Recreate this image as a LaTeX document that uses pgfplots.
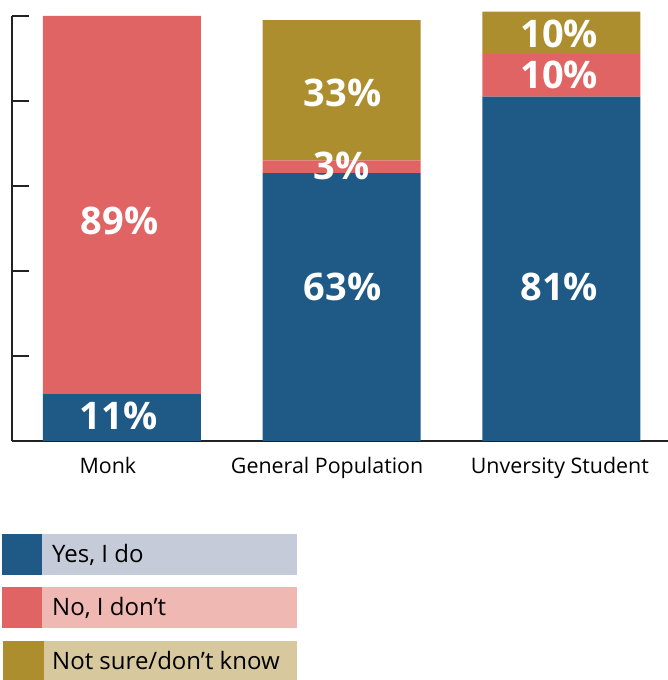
\documentclass[border=0pt]{standalone}
\usepackage{pgfplots}
\pgfplotsset{compat=1.18}
\usepackage{fontspec}
\setmainfont{Open Sans}
\definecolor{cyes}{HTML}{1F5A86}
\definecolor{cno}{HTML}{E16465}
\definecolor{cns}{HTML}{AD8E2F}
\definecolor{lyes}{HTML}{C6CBD9}
\definecolor{lno}{HTML}{F0B8B3}
\definecolor{lns}{HTML}{D7C89D}
\definecolor{axc}{HTML}{222222}
\tikzset{barlab/.style={font=\bfseries\fontsize{38}{42}\selectfont, text=white, anchor=center},
  leglab/.style={font=\fontsize{24}{28}\selectfont, anchor=west, inner sep=0pt}}
\begin{document}
\begin{tikzpicture}[x=1pt,y=1pt]
\path[use as bounding box] (0,0) rectangle (668,680);
\begin{axis}[
  at={(12pt,239pt)}, anchor=south west,
  scale only axis, width=656pt, height=425pt,
  xmin=-0.5, xmax=2.485, ymin=0, ymax=100,
  clip=false,
  ybar stacked, bar width=158pt,
  axis x line*=bottom, axis y line*=left,
  axis line style={line width=2.5pt, color=axc},
  xtick={-0.064,0.934,1.993},
  xticklabels={Monk, General Population, Unversity Student},
  xtick style={draw=none},
  xticklabel style={font=\fontsize{21.4}{24}\selectfont, text=black, yshift=-13pt},
  extra x ticks={0.5,1.5},
  extra x tick labels={},
  extra x tick style={major tick length=11pt, tick style={draw=axc, line width=2.5pt}},
  ytick={0,20,40,60,80,100},
  yticklabels={},
  ytick style={draw=axc, line width=2.5pt},
  tick align=inside,
  major tick length=17pt,
]
\addplot[fill=cyes, draw=none] coordinates {(0,11) (1,63) (2,81)};
\addplot[fill=cno, draw=none] coordinates {(0,89) (1,3) (2,10)};
\addplot[fill=cns, draw=none] coordinates {(0,0) (1,33) (2,10)};
\coordinate (a1) at (axis cs:-0.015,5.8);
\coordinate (a2) at (axis cs:-0.01,51.8);
\coordinate (b1) at (axis cs:1.005,36.2);
\coordinate (b2) at (axis cs:1,64.7);
\coordinate (b3) at (axis cs:1.005,81.9);
\coordinate (c1) at (axis cs:1.99,36.2);
\coordinate (c2) at (axis cs:1.99,86.1);
\coordinate (c3) at (axis cs:1.99,95.8);
\end{axis}
\node[barlab] at (a1) {11\%};
\node[barlab] at (a2) {89\%};
\node[barlab] at (b1) {63\%};
\node[barlab] at (b2) {3\%};
\node[barlab] at (b3) {33\%};
\node[barlab] at (c1) {81\%};
\node[barlab] at (c2) {10\%};
\node[barlab] at (c3) {10\%};
\fill[lyes] (42,105) rectangle (297,146);
\fill[cyes] (2,105) rectangle (42,146);
\node[leglab] at (52,125.5) {Yes, I do};
\fill[lno] (42,52) rectangle (297,93);
\fill[cno] (2,52) rectangle (42,93);
\node[leglab] at (52,72.5) {No, I don’t};
\fill[lns] (42,0) rectangle (297,39);
\fill[cns] (3,0) rectangle (44,39);
\node[leglab] at (52,19.5) {Not sure/don’t know};
\end{tikzpicture}
\end{document}
